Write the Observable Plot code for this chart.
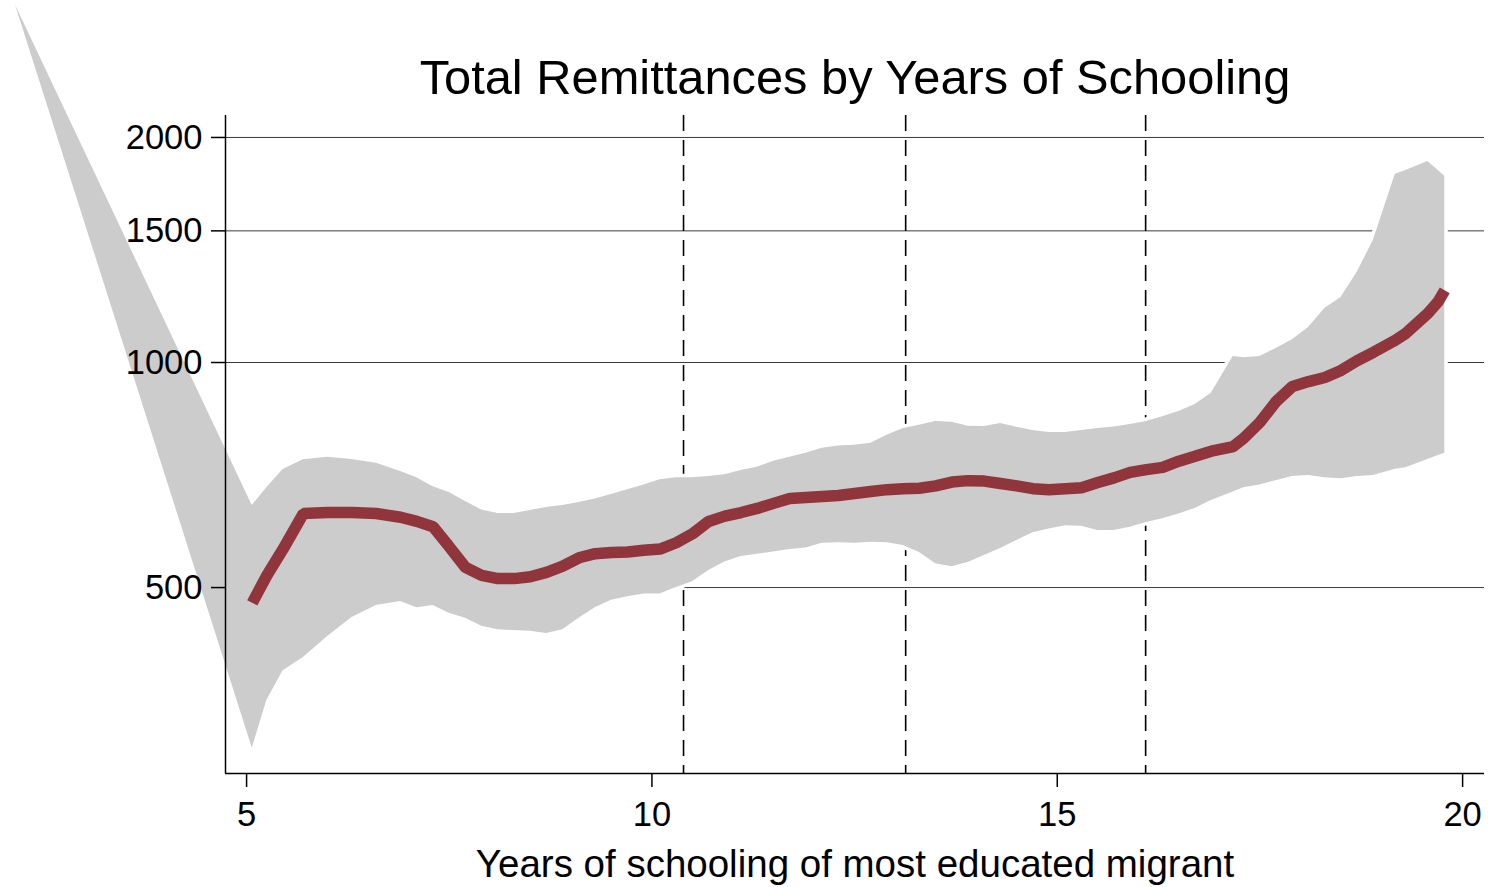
<!DOCTYPE html>
<html>
<head>
<meta charset="utf-8">
<script src="https://cdn.jsdelivr.net/npm/d3@7"></script>
<script src="https://cdn.jsdelivr.net/npm/@observablehq/plot@0.6"></script>
<style>
  html, body { margin: 0; padding: 0; background: #ffffff; }
  #chart { width: 1490px; height: 887px; }
</style>
</head>
<body>
<div id="chart"></div>
<script>
// ---- Data ----
const chartTitle = "Total Remittances by Years of Schooling";
const xTitle = "Years of schooling of most educated migrant";

const years = [5.07, 5.25, 5.45, 5.7, 6.0, 6.3, 6.6, 6.9, 7.1, 7.3, 7.5, 7.7, 7.9, 8.1, 8.3, 8.5, 8.7, 8.9,
  9.1, 9.3, 9.5, 9.7, 9.9, 10.1, 10.3, 10.5, 10.7, 10.9, 11.1, 11.3, 11.5, 11.7, 11.9, 12.1, 12.3, 12.5, 12.7, 12.9,
  13.1, 13.3, 13.5, 13.7, 13.9, 14.1, 14.3, 14.5, 14.7, 14.9, 15.1, 15.3, 15.5, 15.7, 15.9, 16.1, 16.3, 16.5, 16.7, 16.9,
  17.17, 17.3, 17.5, 17.7, 17.9, 18.1, 18.3, 18.5, 18.7, 18.9, 19.17, 19.3, 19.57, 19.7, 19.78];

const fitted = [477, 519, 563, 628, 630, 630, 628, 621, 613, 603, 567, 532, 519, 514, 514, 517, 524, 534,
  548, 555, 557, 558, 561, 563, 574, 590, 613, 623, 630, 638, 648, 658, 660, 662, 664, 668, 672, 676,
  678, 679, 684, 692, 695, 694, 689, 684, 678, 676, 678, 680, 691, 701, 713, 719, 724, 738, 749, 761,
  772, 792, 832, 887, 929, 943, 955, 976, 1006, 1032, 1071, 1094, 1163, 1207, 1249];

const ciHigh = [644, 680, 719, 741, 747, 742, 733, 715, 701, 682, 670, 652, 635, 628, 628, 634, 640, 644,
  650, 657, 666, 676, 686, 697, 701, 701, 704, 708, 717, 724, 738, 747, 756, 768, 773, 775, 780, 799,
  816, 824, 834, 832, 822, 821, 829, 819, 811, 806, 806, 811, 816, 820, 826, 834, 846, 860, 879, 910,
  1019, 1015, 1019, 1044, 1073, 1114, 1181, 1222, 1320, 1457, 1786, 1807, 1858, 1807, 1775];

const ciLow = [305, 353, 387, 403, 430, 456, 473, 479, 470, 473, 462, 455, 444, 439, 438, 437, 434, 439,
  455, 470, 481, 486, 490, 490, 500, 509, 527, 541, 550, 554, 558, 562, 565, 573, 574, 573, 575, 574,
  569, 557, 538, 533, 540, 552, 564, 578, 592, 599, 605, 604, 596, 596, 602, 611, 618, 627, 638, 654,
  671, 680, 686, 695, 704, 706, 701, 699, 704, 706, 720, 723, 742, 751, 756];

// the shaded band's first vertex lies far up-left, outside the plot region
const bandStartYear = 2.15;
const bandStartValue = 3005;

const cutoffYears = [10.39, 13.13, 16.09];
const yTicks = [500, 1000, 1500, 2000];
const xTicks = [5, 10, 15, 20];
const xDomain = [4.74, 20.27];
const yDomain = [282, 2140];

// ---- Build tables ----
const lineData = years.map((x, i) => ({x, y: fitted[i]}));
const bandData = [{x: bandStartYear, lo: bandStartValue, hi: bandStartValue}]
  .concat(years.map((x, i) => ({x, lo: ciLow[i], hi: ciHigh[i]})));

const font = "'Liberation Sans', Arial, Helvetica, sans-serif";

const chart = Plot.plot({
  width: 1490,
  height: 887,
  marginLeft: 225,
  marginRight: 6,
  marginTop: 115,
  marginBottom: 114,
  style: {fontFamily: font, color: "#000", background: "#fff", overflow: "visible"},
  x: {domain: xDomain, label: null},
  y: {type: "log", domain: yDomain, label: null},
  marks: [
    Plot.ruleY(yTicks, {stroke: "#3a3a3a", strokeWidth: 1}),
    Plot.ruleX(cutoffYears, {stroke: "#000", strokeWidth: 1.6, strokeDasharray: "16,9"}),
    // white halo around the band (hides grid/dashes just outside it)
    Plot.areaY(bandData, {x: "x", y1: "lo", y2: "hi", fill: "#ffffff", stroke: "#ffffff", strokeWidth: 7, strokeLinejoin: "round"}),
    Plot.areaY(bandData, {x: "x", y1: "lo", y2: "hi", fill: "#cccccc"}),
    Plot.lineY(lineData, {x: "x", y: "y", stroke: "#90353b", strokeWidth: 11.5, strokeLinecap: "butt", strokeLinejoin: "miter"}),
    Plot.ruleX([xDomain[0]], {stroke: "#000", strokeWidth: 1.5}),
    Plot.ruleY([yDomain[0]], {stroke: "#000", strokeWidth: 1.5}),
    Plot.axisY({ticks: yTicks, tickFormat: d => String(d), tickSize: 14, tickPadding: 9, fontSize: 34.5, label: null, strokeWidth: 1.5}),
    Plot.axisX({ticks: xTicks, tickFormat: d => String(d), tickSize: 14, tickPadding: 14, fontSize: 34.5, label: null, strokeWidth: 1.5}),
    Plot.text([chartTitle], {frameAnchor: "top", dy: -22, lineAnchor: "bottom", fontSize: 48.8}),
    Plot.text([xTitle], {frameAnchor: "bottom", dy: 103, lineAnchor: "bottom", fontSize: 38.5})
  ]
});

document.getElementById("chart").appendChild(chart);
</script>
</body>
</html>
